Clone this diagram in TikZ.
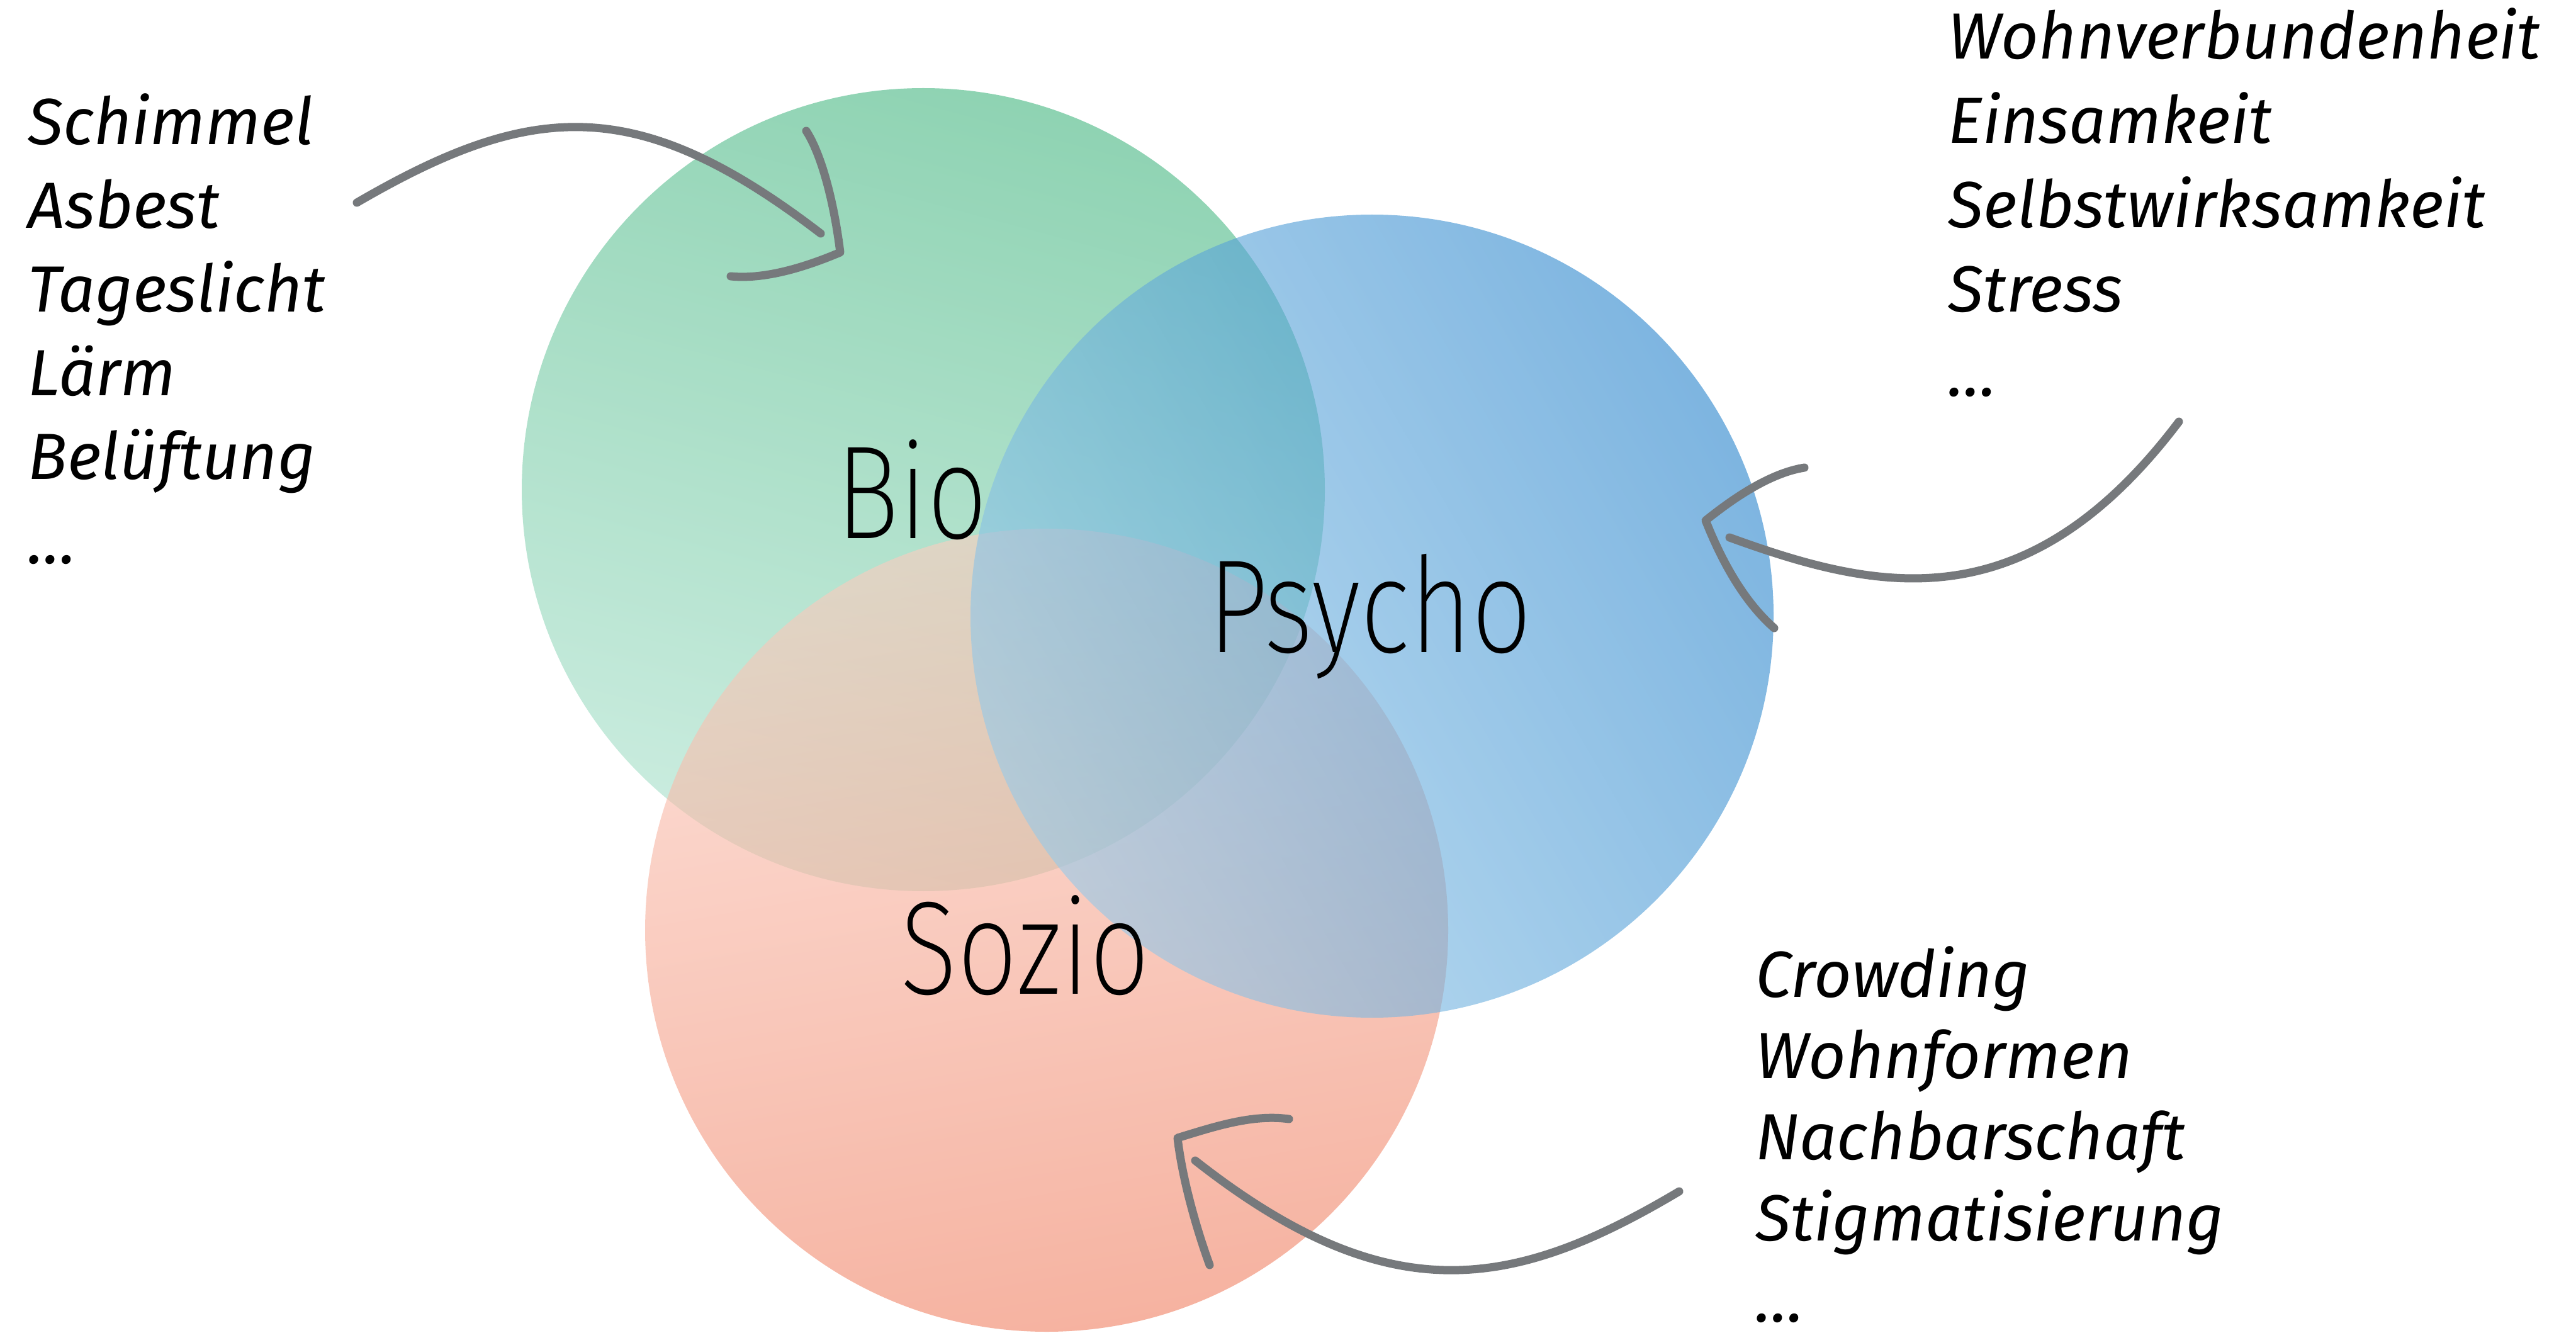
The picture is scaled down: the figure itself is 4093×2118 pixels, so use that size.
\documentclass[tikz,border=0pt]{standalone}
\usepackage{fontspec}
\setmainfont{Fira Sans}
\newfontfamily\listfont{Fira Sans}
\newfontfamily\circlefont{Fira Sans ExtraLight}[FakeStretch=0.8]
\usetikzlibrary{positioning}
\definecolor{biodark}{RGB}{68,182,128}
\definecolor{biolight}{RGB}{170,225,204}
\definecolor{psychodark}{RGB}{40,132,204}
\definecolor{psycholight}{RGB}{150,202,234}
\definecolor{soziodark}{RGB}{240,128,98}
\definecolor{soziolight}{RGB}{252,205,192}
\definecolor{arrowgray}{RGB}{118,121,124}

\begin{document}
\begin{tikzpicture}[x=0.1mm, y=-0.1mm,
  venn/.style={circle, minimum size=127.6mm, inner sep=0pt, fill opacity=0.6},
  circlelabel/.style={anchor=base, inner sep=0pt, font=\circlefont\fontsize{60}{72}\selectfont},
  factor/.style={anchor=base west, inner sep=0pt, font=\listfont\itshape\fontsize{29.5}{36}\selectfont},
  sketch/.style={draw=arrowgray, line width=1.3mm, line cap=round, line join=round},
]

% Canvas
\fill[white] (0,0) rectangle (4093,2118);
\useasboundingbox (0,0) rectangle (4093,2118);

% Circles
\node[venn, top color=biodark, bottom color=biolight, shading angle=-15] (bio) at (1467,778) {};
\node[venn, top color=soziolight, bottom color=soziodark, shading angle=10] (sozio) at (1663,1478) {};
\node[venn, top color=psychodark, bottom color=psycholight, shading angle=-60] (psycho) at (2180,979) {};

% Circle labels
\node[circlelabel] (biolabel) at (1449,856) {Bio};
\node[circlelabel] (psycholabel) at (2177,1036) {Psycho};
\node[circlelabel] (soziolabel) at (1629,1579) {Sozio};

% Factor lists
\foreach \word [count=\i] in {Schimmel, Asbest, Tageslicht, Lärm, Belüftung, \dots}
  \node[factor] (biofactor\i) at (44, {230+133*(\i-1)}) {\word};
\foreach \word [count=\i] in {Wohnverbundenheit, Einsamkeit, Selbstwirksamkeit, Stress, \dots}
  \node[factor] (psychofactor\i) at (3095, {94+134*(\i-1)}) {\word};
\foreach \word [count=\i] in {Crowding, Wohnformen, Nachbarschaft, Stigmatisierung, \dots}
  \node[factor] (soziofactor\i) at (2789, {1584+129*(\i-1)}) {\word};

% Arrow into Bio
\coordinate (bioFrom) at (567,322);
\coordinate (bioTo) at (1304,371);
\coordinate (bioTip) at (1335,401);
\coordinate (bioArmA) at (1281,208);
\coordinate (bioArmB) at (1161,439);
\draw[sketch] (bioFrom) .. controls (844,161) and (1012,147) .. (bioTo);
\draw[sketch] (bioArmA) .. controls (1305,245) and (1325,320) .. (bioTip)
  .. controls (1290,420) and (1220,445) .. (bioArmB);

% Arrow into Psycho
\coordinate (psychoFrom) at (3462,670);
\coordinate (psychoTo) at (2748,854);
\coordinate (psychoTip) at (2710,827);
\coordinate (psychoArmA) at (2867,743);
\coordinate (psychoArmB) at (2819,998);
\draw[sketch] (psychoFrom) .. controls (3217,994) and (2980,938) .. (psychoTo);
\draw[sketch] (psychoArmA) .. controls (2810,752) and (2750,795) .. (psychoTip)
  .. controls (2735,890) and (2770,955) .. (psychoArmB);

% Arrow into Sozio
\coordinate (sozioFrom) at (2668,1893);
\coordinate (sozioTo) at (1899,1844);
\coordinate (sozioTip) at (1871,1808);
\coordinate (sozioArmA) at (2048,1778);
\coordinate (sozioArmB) at (1922,2010);
\draw[sketch] (sozioFrom) .. controls (2404,2050) and (2207,2086) .. (sozioTo);
\draw[sketch] (sozioArmA) .. controls (1990,1770) and (1930,1790) .. (sozioTip)
  .. controls (1878,1870) and (1900,1950) .. (sozioArmB);

\end{tikzpicture}
\end{document}
